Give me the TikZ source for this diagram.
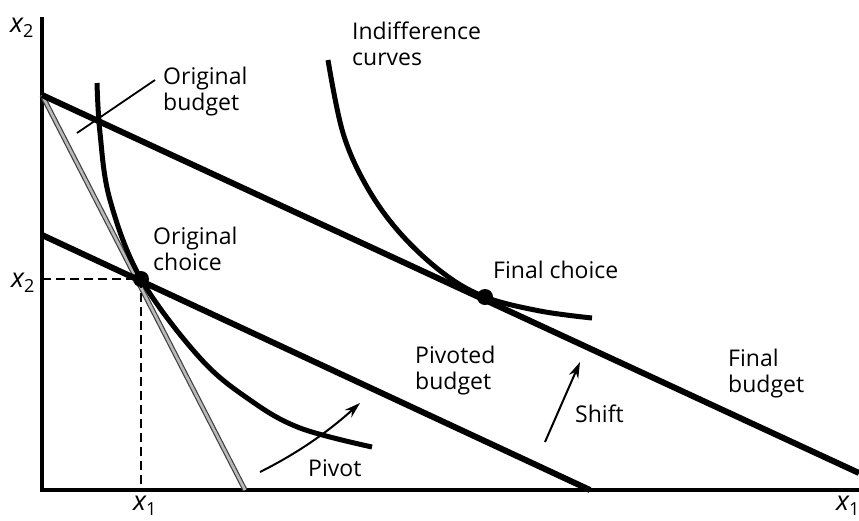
\documentclass[tikz,border=0pt]{standalone}
\usepackage{fontspec}
\setmainfont{Open Sans}
\usetikzlibrary{arrows.meta}
\newcommand{\varlbl}[2]{{\fontsize{27}{27}\selectfont\itshape #1}\raisebox{-5pt}{\fontsize{18}{18}\selectfont #2}}
\begin{document}
\begin{tikzpicture}[x=1pt,y=-1pt,
  lbl/.style={font=\fontsize{23}{26}\selectfont, align=left, inner sep=0pt, anchor=base west},
  axisline/.style={line width=4pt},
  budget/.style={line width=6pt},
  indiff/.style={line width=5pt},
  pointer/.style={line width=1.8pt},
  guide/.style={line width=1.5pt, dash pattern=on 9pt off 5pt},
  arr/.style={line width=2pt, -{Stealth[length=16pt,width=10pt]}},
  dot/.style={circle, fill=black, inner sep=0pt, minimum size=16pt}]
\useasboundingbox (0,0) rectangle (859,520);
% axes
\coordinate (O) at (42,490);
\coordinate (ytop) at (42,17);
\coordinate (xend) at (859,490);
\draw[axisline] (ytop) -- (O) -- (xend);
% budget intercepts
\coordinate (A) at (42,95);
\coordinate (Aend) at (859,473);
\coordinate (Bend) at (245,490);
\coordinate (P) at (42,235);
\coordinate (Pend) at (590,490);
% original (steep) budget, gray
\draw[line width=5pt, black!75] (A) -- (Bend);
\draw[line width=2.6pt, gray!55] (A) -- (Bend);
% final budget
\draw[budget] (A) -- (Aend);
% pivoted budget
\draw[budget] (P) -- (Pend);
% indifference curves
\draw[indiff] plot[smooth, tension=0.6] coordinates {(97,83) (100,133) (110,200) (141,279) (200,358) (250,400) (300,428) (372,447)};
\draw[indiff] plot[smooth, tension=0.6] coordinates {(328,60) (343,133) (367,187) (400,233) (443,273) (485,297) (540,311) (592,318)};
% choices
\node[dot] (oc) at (141,279) {};
\node[dot] (fc) at (485,297) {};
% dashed guides
\coordinate (gx2) at (42,279);
\coordinate (gx1) at (141,490);
\draw[guide] (gx2) -- (oc.center);
\draw[guide] (oc.center) -- (gx1);
% pointer for original budget
\coordinate (pa) at (155,80);
\coordinate (pb) at (77,133);
\draw[pointer] (pa) -- (pb);
% arrows
\coordinate (pv1) at (260,472);
\coordinate (pv2) at (360,403);
\draw[arr] (pv1) .. controls (300,452) and (330,430) .. (pv2);
\coordinate (sh1) at (545,442);
\coordinate (sh2) at (580,362);
\draw[arr] (sh1) -- (sh2);
% labels (base = last line baseline)
\node[lbl] (lIC) at (352,65) {Indifference\\curves};
\node[lbl] (lOB) at (163,110) {Original\\budget};
\node[lbl] (lOC) at (153,270) {Original\\choice};
\node[lbl] (lFC) at (493,278) {Final choice};
\node[lbl] (lPB) at (415,389) {Pivoted\\budget};
\node[lbl] (lPv) at (308,476) {Pivot};
\node[lbl] (lSh) at (575,422) {Shift};
\node[lbl] (lFB) at (728,392) {Final\\budget};
\node[lbl] (ly1) at (10,32) {\varlbl{x}{2}};
\node[lbl] (ly2) at (11,287) {\varlbl{x}{2}};
\node[lbl] (lx1) at (133,510) {\varlbl{x}{1}};
\node[lbl] (lx2) at (836,510) {\varlbl{x}{1}};
\end{tikzpicture}
\end{document}
